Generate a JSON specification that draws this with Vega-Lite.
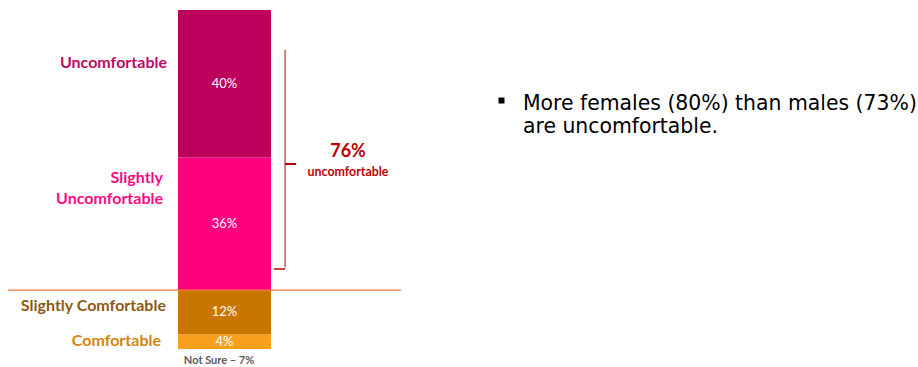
{
  "$schema": "https://vega.github.io/schema/vega-lite/v6.json",
  "width": 918,
  "height": 367,
  "autosize": {"type": "fit", "contains": "padding"},
  "padding": 0,
  "background": "white",
  "config": {"view": {"stroke": null}, "font": "Lato"},
  "data": {"values": [
    {"response": "Comfortable", "share": 0.04, "rank": 1},
    {"response": "Slightly Comfortable", "share": 0.12, "rank": 2},
    {"response": "Slightly Uncomfortable", "share": 0.36, "rank": 3},
    {"response": "Uncomfortable", "share": 0.40, "rank": 4}
  ]},
  "layer": [
    {
      "transform": [{"stack": "share", "groupby": [], "sort": [{"field": "rank", "order": "ascending"}], "as": ["v0", "v1"]}],
      "mark": {"type": "rect"},
      "encoding": {
        "x": {"datum": 19.39, "type": "quantitative", "scale": {"domain": [0, 100], "nice": false, "zero": false}, "axis": null},
        "x2": {"datum": 29.52},
        "y": {"field": "v0", "type": "quantitative", "scale": {"domain": [-0.04885, 0.94708], "nice": false, "zero": false}, "axis": null},
        "y2": {"field": "v1"},
        "color": {"field": "response", "type": "nominal", "scale": {"domain": ["Uncomfortable", "Slightly Uncomfortable", "Slightly Comfortable", "Comfortable"], "range": ["#BC005C", "#FF007F", "#C87600", "#F8A01E"]}, "legend": null}
      }
    },
    {
      "transform": [
        {"stack": "share", "groupby": [], "sort": [{"field": "rank", "order": "ascending"}], "as": ["v0", "v1"]},
        {"fold": ["v0", "v1"], "as": ["edge", "pos"]}
      ],
      "mark": {"type": "text", "color": "white", "fontSize": 13, "align": "center", "baseline": "middle"},
      "encoding": {
        "x": {"datum": 24.46, "type": "quantitative"},
        "y": {"aggregate": "mean", "field": "pos", "type": "quantitative"},
        "detail": {"field": "response", "type": "nominal"},
        "text": {"field": "share", "type": "quantitative", "format": ".0%"}
      }
    },
    {
      "transform": [{"filter": "datum.rank == 4"}],
      "mark": {"type": "text", "align": "right", "baseline": "middle", "fontSize": 16, "fontWeight": "bold", "color": "#BE0A63"},
      "encoding": {
        "x": {"datum": 18.19, "type": "quantitative"},
        "y": {"datum": 0.776, "type": "quantitative"},
        "text": {"field": "response", "type": "nominal"}
      }
    },
    {
      "transform": [{"filter": "datum.rank == 3"}],
      "mark": {"type": "text", "align": "right", "baseline": "middle", "fontSize": 16, "fontWeight": "bold", "color": "#FF0A83", "lineBreak": " ", "lineHeight": 21},
      "encoding": {
        "x": {"datum": 17.76, "type": "quantitative"},
        "y": {"datum": 0.464, "type": "quantitative"},
        "text": {"field": "response", "type": "nominal"}
      }
    },
    {
      "transform": [{"filter": "datum.rank == 2"}],
      "mark": {"type": "text", "align": "right", "baseline": "middle", "fontSize": 16, "fontWeight": "bold", "color": "#8C5A14"},
      "encoding": {
        "x": {"datum": 18.08, "type": "quantitative"},
        "y": {"datum": 0.1167, "type": "quantitative"},
        "text": {"field": "response", "type": "nominal"}
      }
    },
    {
      "transform": [{"filter": "datum.rank == 1"}],
      "mark": {"type": "text", "align": "right", "baseline": "middle", "fontSize": 16, "fontWeight": "bold", "color": "#D4860F"},
      "encoding": {
        "x": {"datum": 17.54, "type": "quantitative"},
        "y": {"datum": 0.0217, "type": "quantitative"},
        "text": {"field": "response", "type": "nominal"}
      }
    },
    {
      "data": {"values": [{"line": "divider"}]},
      "mark": {"type": "rule", "color": "#F47B3B", "strokeWidth": 1.3},
      "encoding": {
        "x": {"datum": 0.87, "type": "quantitative"},
        "x2": {"datum": 43.68},
        "y": {"datum": 0.16, "type": "quantitative"}
      }
    },
    {
      "data": {"values": [{"line": "brace"}]},
      "mark": {"type": "rule", "color": "#C00000", "strokeWidth": 1},
      "encoding": {
        "x": {"datum": 31.05, "type": "quantitative"},
        "y": {"datum": 0.812, "type": "quantitative"},
        "y2": {"datum": 0.222}
      }
    },
    {
      "data": {"values": [{"line": "brace top"}, {"line": "brace bottom"}]},
      "mark": {"type": "rule", "color": "#C00000", "strokeWidth": 1},
      "encoding": {
        "x": {"datum": 29.85, "type": "quantitative"},
        "x2": {"datum": 31.05},
        "y": {"condition": {"test": "datum.line == 'brace top'", "datum": 0.8168}, "datum": 0.2171, "type": "quantitative"}
      }
    },
    {
      "data": {"values": [{"line": "brace tip"}]},
      "mark": {"type": "rule", "color": "#C00000", "strokeWidth": 2},
      "encoding": {
        "x": {"datum": 31.05, "type": "quantitative"},
        "x2": {"datum": 32.24},
        "y": {"datum": 0.502, "type": "quantitative"}
      }
    },
    {
      "data": {"values": [{"note": "76%"}]},
      "mark": {"type": "text", "align": "center", "baseline": "middle", "fontSize": 18, "fontWeight": "bold", "color": "#C00000"},
      "encoding": {
        "x": {"datum": 37.91, "type": "quantitative"},
        "y": {"datum": 0.5346, "type": "quantitative"},
        "text": {"field": "note", "type": "nominal"}
      }
    },
    {
      "data": {"values": [{"note": "uncomfortable"}]},
      "mark": {"type": "text", "align": "center", "baseline": "middle", "fontSize": 12.4, "fontWeight": "bold", "color": "#C00000"},
      "encoding": {
        "x": {"datum": 37.91, "type": "quantitative"},
        "y": {"datum": 0.4803, "type": "quantitative"},
        "text": {"field": "note", "type": "nominal"}
      }
    },
    {
      "data": {"values": [{"note": "Not Sure – 7%"}]},
      "mark": {"type": "text", "align": "center", "baseline": "middle", "fontSize": 11, "fontWeight": "bold", "color": "#595959"},
      "encoding": {
        "x": {"datum": 23.86, "type": "quantitative"},
        "y": {"datum": -0.0326, "type": "quantitative"},
        "text": {"field": "note", "type": "nominal"}
      }
    },
    {
      "data": {"values": [{"note": "bullet"}]},
      "mark": {"type": "square", "filled": true, "color": "#000000", "size": 36, "opacity": 1},
      "encoding": {
        "x": {"datum": 54.63, "type": "quantitative"},
        "y": {"datum": 0.6743, "type": "quantitative"}
      }
    },
    {
      "data": {"values": [{"note": "More females (80%) than males (73%)|are uncomfortable."}]},
      "mark": {"type": "text", "align": "left", "baseline": "alphabetic", "font": "DejaVu Sans", "fontSize": 20.4, "color": "#000000", "lineBreak": "|", "lineHeight": 23},
      "encoding": {
        "x": {"datum": 56.97, "type": "quantitative"},
        "y": {"datum": 0.6486, "type": "quantitative"},
        "text": {"field": "note", "type": "nominal"}
      }
    }
  ]
}
